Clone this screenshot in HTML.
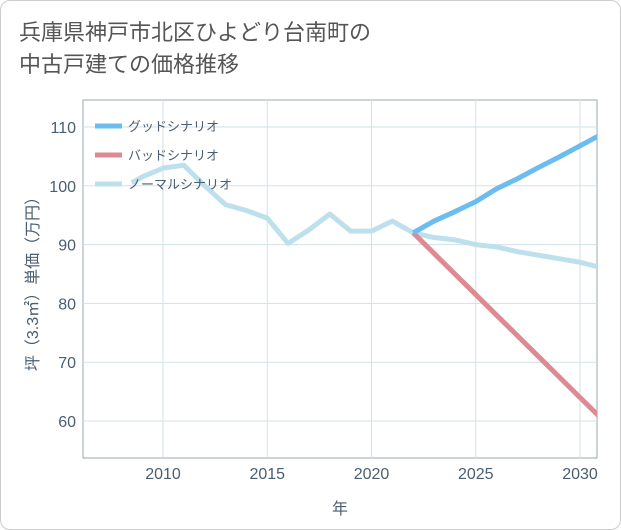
<!DOCTYPE html>
<html><head><meta charset="utf-8"><style>
body{margin:0;background:#fff;font-family:"Liberation Sans","Noto Sans CJK JP",sans-serif;}
#wrap{position:relative;width:619px;height:528px;border:1px solid #ccc;border-radius:10px;overflow:hidden;background:#fff}
#title{position:absolute;left:18px;top:16px;font-size:22px;line-height:32px;color:#555;}
</style></head><body>
<div id="wrap">
<div id="title">兵庫県神戸市北区ひよどり台南町の<br>中古戸建ての価格推移</div>
<svg id="chart" width="621" height="530" style="position:absolute;left:-1px;top:-1px"></svg>
</div>
<script>
const years=[2008.5,2009,2010,2011,2012,2013,2014,2015,2016,2017,2018,2019,2020,2021,2022,2023,2024,2025,2026,2027,2028,2029,2030,2031];
const normalVals=[100.5,101.5,103,103.5,100,96.8,95.8,94.5,90.2,92.5,95.2,92.3,92.3,94,92,91.2,90.8,90,89.6,88.8,88.2,87.6,87,86.1];
const futureYears=[2022,2023,2024,2025,2026,2027,2028,2029,2030,2031];
const goodVals=[92,94,95.6,97.3,99.5,101.2,103.1,104.9,106.8,108.7];
const badVals=[92,88.5,85,81.5,78,74.5,71,67.5,64,60.5];
const xTicks=[2010,2015,2020,2025,2030];
const yTicks=[60,70,80,90,100,110];
const legendLabels=["グッドシナリオ","バッドシナリオ","ノーマルシナリオ"];
const colors=["#6bbcf0","#de8a93","#bde0ec"];
const L=83,R=597,T=100,B=458;
const X=v=>163+(v-2010)*20.85;
const Y=v=>127+(110-v)*5.88;
const svg=document.getElementById('chart');
const NS='http://www.w3.org/2000/svg';
function mk(t,a){const e=document.createElementNS(NS,t);for(const k in a)e.setAttribute(k,a[k]);svg.appendChild(e);return e;}
let r=mk('rect',{x:L,y:T,width:R-L,height:B-T,fill:'#fff',stroke:'#9aa8b4','stroke-width':1});


xTicks.forEach(t=>{const x=X(t);
 const g=mk('line',{x1:x,x2:x,y1:T,y2:B,stroke:'#d3e1ea','stroke-width':1});
 
 });
yTicks.forEach(v=>{const y=Y(v);
 const g=mk('line',{x1:L,x2:R,y1:y,y2:y,stroke:'#d3e1ea','stroke-width':1});
 
 });
xTicks.forEach(t=>{const e=mk('text',{x:X(t),y:479,'text-anchor':'middle','font-size':16,fill:'#4a5d72'});e.textContent=t;
 
 });
yTicks.forEach(t=>{const e=mk('text',{x:76,y:Y(t)+6,'text-anchor':'end','font-size':16,fill:'#4a5d72'});e.textContent=t;
 
 });
let xt=mk('text',{x:340,y:514,'text-anchor':'middle','font-size':16,fill:'#4a5d72'});xt.textContent='年';


let yt=mk('text',{x:0,y:0,'text-anchor':'middle','font-size':16,fill:'#4a5d72',transform:'translate(38,280) rotate(-90)'});yt.textContent='坪（3.3㎡）単価（万円）';


const clip=mk('clipPath',{id:'c'});clip.appendChild(document.createElementNS(NS,'rect'));
const cr=clip.firstChild;cr.setAttribute('x',L);cr.setAttribute('y',T);cr.setAttribute('width',R-L);cr.setAttribute('height',B-T);
function line(xs,vs,c,name){const p=mk('polyline',{points:xs.map((x,i)=>X(x)+','+Y(vs[i])).join(' '),fill:'none',stroke:c,'stroke-width':5,'stroke-linejoin':'round','clip-path':'url(#c)'});
 
 }
line(years,normalVals,colors[2],'normal-scenario-line');
line(futureYears,badVals,colors[1],'bad-scenario-line');
line(futureYears,goodVals,colors[0],'good-scenario-line');
const legNames=['legend-good','legend-bad','legend-normal'];
legendLabels.forEach((l,i)=>{const y=126+i*29;
 const s=mk('line',{x1:95,x2:122,y1:y,y2:y,stroke:colors[i],'stroke-width':5});
 
 
 const t=mk('text',{x:128,y:y+5,'font-size':13,fill:'#4a5d72'});t.textContent=l;
 
 });
</script>
</body></html>
